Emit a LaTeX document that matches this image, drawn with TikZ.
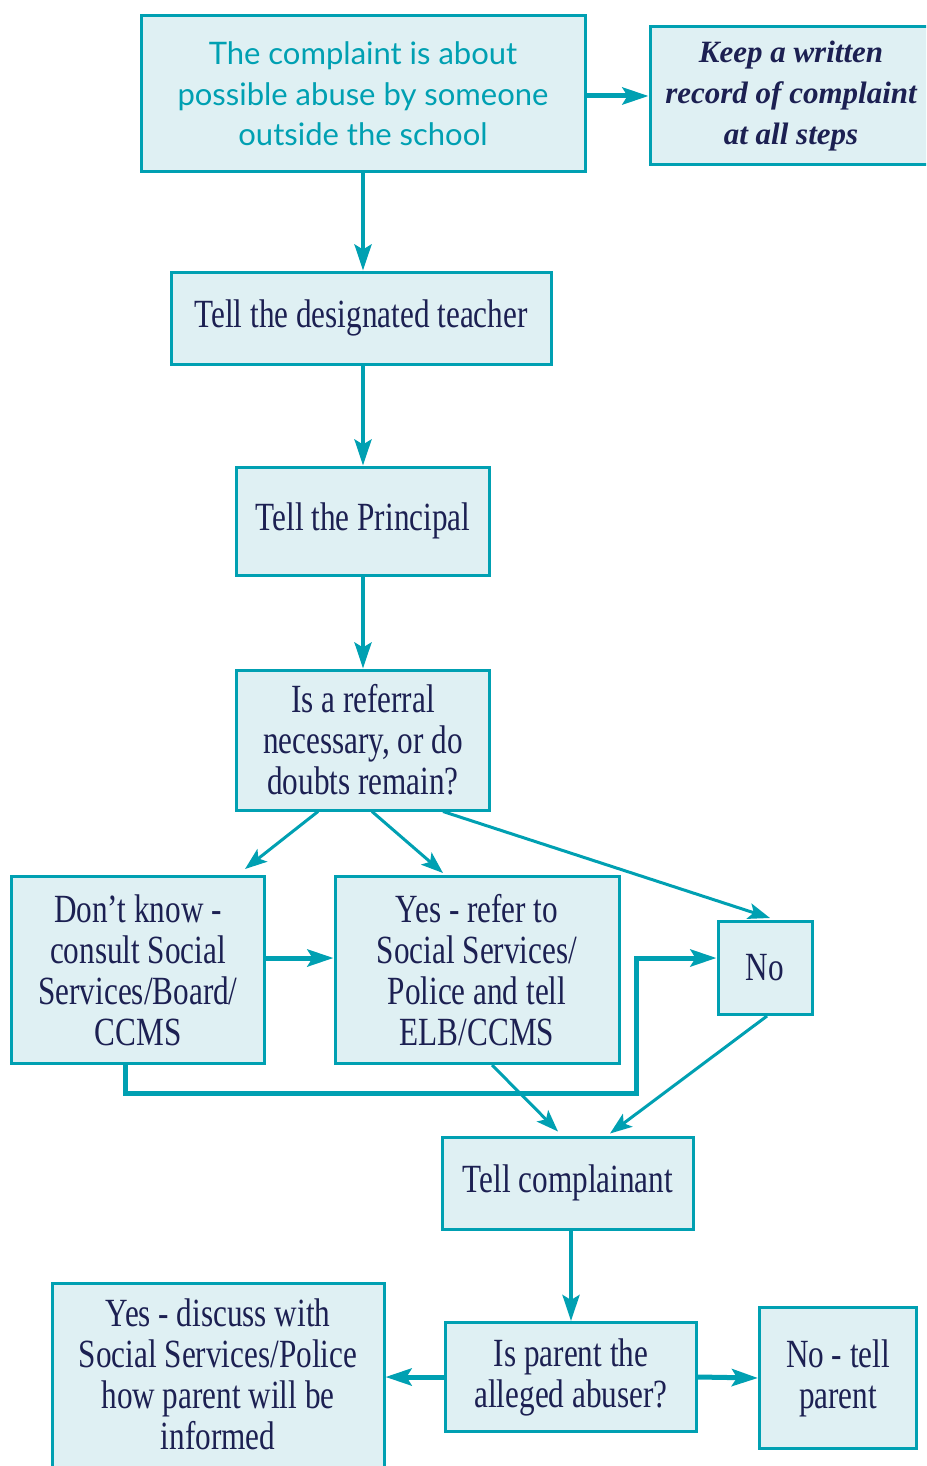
\documentclass[tikz,border=0pt]{standalone}
\usepackage{fontspec}
\usetikzlibrary{arrows.meta}
\newfontfamily\bodyfont[FakeStretch=0.78]{Liberation Serif}
\newfontfamily\notefont{Liberation Serif}
\newfontfamily\headfont{Lato}
\definecolor{flowteal}{RGB}{0,160,178}
\definecolor{flowfill}{RGB}{223,240,243}
\definecolor{flowtext}{RGB}{28,32,82}

\tikzset{
  flowbox/.style={draw=flowteal, fill=flowfill, line width=1.5pt, align=center,
    inner sep=0pt, text=flowtext, font=\bodyfont\fontsize{20}{20.5}\selectfont},
  flowarrow/.style={-{Stealth[length=13pt,width=8.5pt,inset=2.5pt]}, flowteal, line width=2pt},
  thinarrow/.style={-{Stealth[length=11pt,width=8pt,inset=2.5pt]}, flowteal, line width=1.5pt},
  thickarrow/.style={-{Stealth[length=13pt,width=8.5pt,inset=2.5pt]}, flowteal, line width=2.5pt}
}

\begin{document}
\begin{tikzpicture}[x=0.5pt,y=-0.5pt]
\useasboundingbox (0,0) rectangle (926,1466);
\clip (0,0) rectangle (926,1466);

\node[flowbox, minimum width=222pt, minimum height=78pt, text=flowteal,
  font=\headfont\fontsize{15.5}{20.3}\selectfont] (about) at (363,94)
  {The complaint is about\\possible abuse by someone\\outside the school};
\node[flowbox, minimum width=141pt, minimum height=69pt,
  font=\notefont\bfseries\itshape\fontsize{15.5}{20.3}\selectfont] (record) at (791,96)
  {Keep a written\\record of complaint\\at all steps};

\node[flowbox, minimum width=190pt, minimum height=46pt] (teacher) at (361,318) {Tell the designated teacher};
\node[flowbox, minimum width=126.5pt, minimum height=54pt] (principal) at (363,521) {Tell the Principal};
\node[flowbox, minimum width=126.5pt, minimum height=70pt] (referral) at (363,740)
  {Is a referral\\necessary, or do\\doubts remain?};

\node[flowbox, minimum width=126.5pt, minimum height=93.5pt] (dontknow) at (138,970)
  {Don’t know -\\consult Social\\Services/Board/\\CCMS};
\node[flowbox, minimum width=142pt, minimum height=93.5pt] (yesrefer) at (477,970)
  {Yes - refer to\\Social Services/\\Police and tell\\ELB/CCMS};
\node[flowbox, minimum width=47pt, minimum height=46.5pt] (no) at (765,968) {No};

\node[flowbox, minimum width=125.5pt, minimum height=46pt] (complainant) at (568,1183) {Tell complainant};
\node[flowbox, minimum width=125.5pt, minimum height=54.5pt] (parent) at (571,1377)
  {Is parent the\\alleged abuser?};
\node[flowbox, minimum width=166pt, minimum height=100pt, text depth=9pt] (discuss) at (218,1383)
  {Yes - discuss with\\Social Services/Police\\how parent will be\\informed};
\node[flowbox, minimum width=78.5pt, minimum height=70.5pt] (tellparent) at (838,1378)
  {No - tell\\parent};

% main line
\draw[flowarrow] (about.south) -- (teacher.north -| about.south);
\draw[thickarrow] (about.east |- record.west) -- (record.west);
\draw[flowarrow] (teacher.south -| principal.north) -- (principal.north);
\draw[flowarrow] (principal) -- (referral);

% answers
\draw[thinarrow] ([xshift=-22.5pt]referral.south) -- ([xshift=53.5pt,yshift=3pt]dontknow.north);
\draw[thinarrow] ([xshift=4.5pt]referral.south) -- ([xshift=-17pt,yshift=1pt]yesrefer.north);
\draw[thinarrow] ([xshift=40pt]referral.south) -- ([xshift=2.5pt,yshift=1pt]no.north);

\coordinate (bend) at (636,1093);
\coordinate (turn) at (636,958);
\draw[thickarrow] ([yshift=6pt]dontknow.east) -- ([yshift=6pt]yesrefer.west);
\draw[thickarrow] ([xshift=-6.5pt]dontknow.south) |- (bend) -- (turn) -- (turn -| no.west);

\draw[thinarrow] ([xshift=7.5pt]yesrefer.south) -- ([xshift=-5pt,yshift=2pt]complainant.north);
\draw[thinarrow] ([xshift=1pt]no.south) -- ([xshift=21pt,yshift=1pt]complainant.north);

% parent
\draw[flowarrow] (complainant.south -| parent.north) -- (parent.north);
\draw[thickarrow] (parent.west) -- (parent.west -| discuss.east);
\draw[thickarrow] (parent.east) -- (tellparent.west);

\end{tikzpicture}
\end{document}
